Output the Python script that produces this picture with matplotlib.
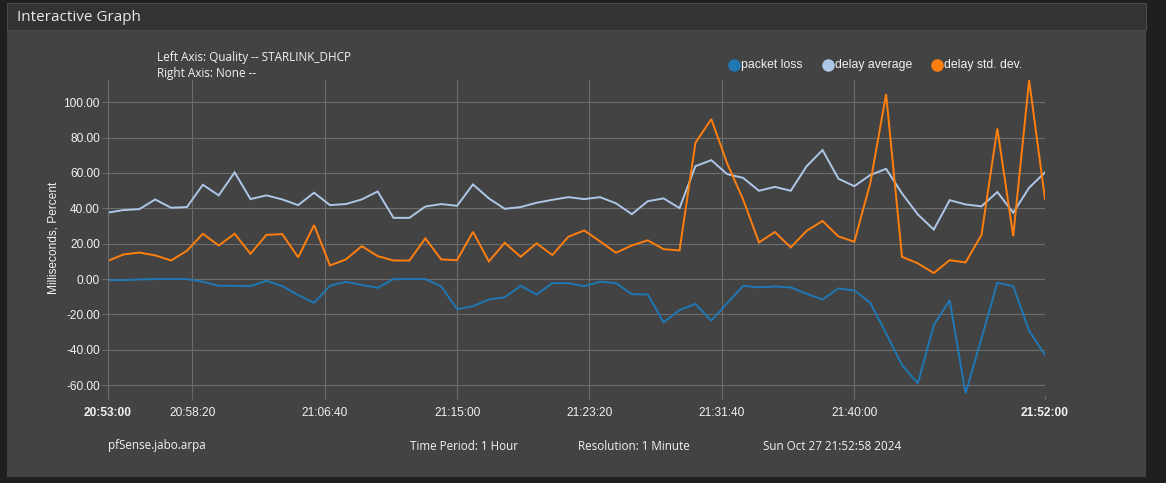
import matplotlib
matplotlib.use("Agg")
import matplotlib.pyplot as plt
from matplotlib.patches import Rectangle
from matplotlib.lines import Line2D

W, H = 1166, 483

# minutes since 20:53:00, one sample per minute
minutes = list(range(60))

packet_loss = [-0.6, -0.6, -0.2, 0, 0, 0, -1.5, -3.8, -3.8, -4, -1, -4, -9, -13.4, -3.8,
               -1.5, -3.3, -4.9, 0, 0, 0, -4, -17, -15.3, -11.5, -10.3, -3.8, -8.7, -2.3, -2.3,
               -4, -1.5, -2.3, -8.5, -8.7, -24.5, -17.5, -14.1, -23.5, -13.6, -3.8, -4.7, -4.2, -4.7, -8.3,
               -11.5, -5.3, -6.4, -13.4, -30.7, -48.6, -58.9, -26, -11.9, -64.6, -33.5, -2.1, -4, -29.2, -42.9]

delay_avg = [37.5, 39, 39.5, 45, 40.3, 40.7, 53.3, 47.3, 60.3, 45.2, 47.3, 45, 41.8, 48.8, 41.8,
             42.4, 45, 49.5, 34.6, 34.6, 41, 42.4, 41.4, 53.5, 45.6, 39.7, 40.7, 43.1, 44.8, 46.3,
             45.2, 46.3, 42.8, 36.7, 44, 45.6, 40.1, 63.8, 67.2, 59.3, 57.2, 49.9, 52.1, 49.9, 63.8,
             72.9, 56.7, 52.5, 58.8, 62.3, 48.4, 36.5, 28, 44.6, 42.2, 41.1, 49.2, 37.5, 51.6, 60.3]

delay_std = [10.2, 13.9, 15, 13.4, 10.5, 16, 25.6, 19, 25.6, 14.3, 25, 25.4, 12.3, 30.5, 7.7,
             11.1, 18.6, 13, 10.5, 10.5, 23, 11.1, 10.7, 26.7, 10, 20.5, 12.6, 20.2, 13.6, 23.9,
             27.5, 21.3, 14.9, 19, 21.9, 16.9, 16.2, 77, 90.4, 65.3, 45, 20.7, 26.6, 17.9, 27.3,
             32.8, 24.1, 21.1, 54, 104.5, 12.6, 8.9, 3.4, 10.7, 9.4, 24.9, 85.1, 24.3, 112.4, 45.2]

series_names = ["packet loss", "delay average", "delay std. dev."]
series_colors = ["#1f77b4", "#aec7e8", "#ff7f0e"]

tick_pos = [0, 5 + 1 / 3, 13 + 2 / 3, 22, 30 + 1 / 3, 38 + 2 / 3, 47, 59]
tick_labels = ["20:53:00", "20:58:20", "21:06:40", "21:15:00", "21:23:20",
               "21:31:40", "21:40:00", "21:52:00"]
yticks = [-60, -40, -20, 0, 20, 40, 60, 80, 100]


def fx(px):
    return px / W


def fy(py):
    return 1 - py / H


fig = plt.figure(figsize=(W / 100, H / 100), dpi=100)
fig.patch.set_facecolor("#1f1f1f")

# panel + title bar
fig.add_artist(Rectangle((fx(7), fy(477)), fx(1146) - fx(7), fy(30) - fy(477),
                         transform=fig.transFigure, facecolor="#434343", edgecolor="none", zorder=0))
fig.add_artist(Rectangle((fx(7), fy(30)), fx(1146) - fx(7), fy(3) - fy(30),
                         transform=fig.transFigure, facecolor="#333333", edgecolor="#4a4a4a",
                         linewidth=0.8, zorder=0))
fig.text(fx(17), fy(17.5), "Interactive Graph", color="#e8e8e8", fontsize=11,
         family="Open Sans", va="center", ha="left")

ax = fig.add_axes([fx(107.5), fy(395), fx(1045) - fx(107.5), fy(80) - fy(395)])
ax.set_facecolor("none")
grid_c = "#6c6c6c"

for vals, name, col in zip([packet_loss, delay_avg, delay_std], series_names, series_colors):
    ax.plot(minutes, vals, color=col, lw=1.4, label=name, solid_joinstyle="miter")

ax.set_xlim(0, 59)
ax.set_ylim(-65.5, 112.5)
ax.set_yticks(yticks)
ax.set_yticklabels([f"{v:.2f}" for v in yticks])
ax.set_xticks(tick_pos)
ax.set_xticklabels(tick_labels)
for i, lab in enumerate(ax.get_xticklabels()):
    if i in (0, len(tick_labels) - 1):
        lab.set_fontweight("bold")

ax.tick_params(axis="both", colors=grid_c, labelcolor="#f2f2f2", labelsize=8.6, width=0.8)
ax.tick_params(axis="y", length=4, pad=1.5)
ax.tick_params(axis="x", length=3, pad=6)
for lab in ax.get_xticklabels() + ax.get_yticklabels():
    lab.set_family("Liberation Sans")

for y in yticks:
    ax.axhline(y, color=grid_c, lw=0.8, zorder=0)
for x in tick_pos[1:-1]:
    ax.axvline(x, color=grid_c, lw=0.8, zorder=0)

for s in ["top", "right", "bottom"]:
    ax.spines[s].set_visible(False)
ax.spines["left"].set_color(grid_c)
ax.spines["left"].set_linewidth(0.8)

ax.set_ylabel("Milliseconds, Percent", color="#f2f2f2", fontsize=8.6,
              family="Liberation Sans", labelpad=3)

# header text
fig.text(fx(157), fy(57), "Left Axis: Quality -- STARLINK_DHCP", color="#f2f2f2",
         fontsize=8.5, family="Open Sans", va="center")
fig.text(fx(157), fy(73), "Right Axis: None --", color="#f2f2f2",
         fontsize=8.5, family="Open Sans", va="center")

# legend, drawn by hand so entries sit where the reference puts them
legend_x = [734, 828, 937]
for x, name, col in zip(legend_x, series_names, series_colors):
    fig.add_artist(Line2D([fx(x)], [fy(65)], transform=fig.transFigure, ls="none",
                          marker="o", markersize=9, color=col, markeredgewidth=0))
    fig.text(fx(x + 7), fy(65), name, color="#f2f2f2", fontsize=8.8,
             family="Liberation Sans", va="center", ha="left")

# footer
footer = [(108, "pfSense.jabo.arpa"), (410, "Time Period: 1 Hour"),
          (578, "Resolution: 1 Minute"), (763, "Sun Oct 27 21:52:58 2024")]
for x, t in footer:
    fig.text(fx(x), fy(446), t, color="#f2f2f2", fontsize=8.4, family="Open Sans", va="center")

fig.savefig("out.png", dpi=100, facecolor=fig.get_facecolor())
